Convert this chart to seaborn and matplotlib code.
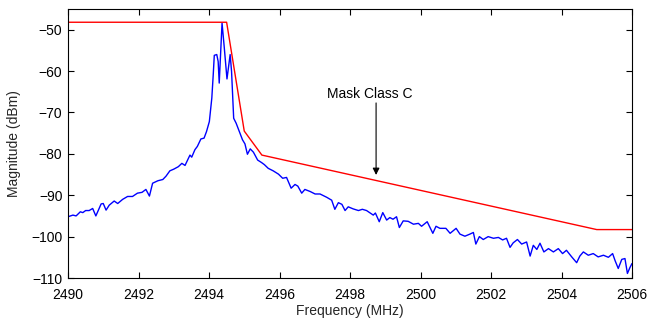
import matplotlib
matplotlib.use("Agg")
import matplotlib.pyplot as plt
import seaborn as sns
import pandas as pd

# Measured spectrum (MHz, dBm)
freq = [2490.0, 2490.14, 2490.23, 2490.35, 2490.42, 2490.5, 2490.6, 2490.70, 2490.79, 2490.94,
        2491.0, 2491.08, 2491.17, 2491.31, 2491.41, 2491.55, 2491.69, 2491.83, 2491.97, 2492.1,
        2492.21, 2492.31, 2492.40, 2492.55, 2492.69, 2492.78, 2492.89, 2493.0, 2493.13, 2493.23,
        2493.32, 2493.46, 2493.51, 2493.60, 2493.67, 2493.77, 2493.86, 2493.93, 2494.01, 2494.08,
        2494.12, 2494.15, 2494.22, 2494.26, 2494.29, 2494.37, 2494.43, 2494.51, 2494.60, 2494.64,
        2494.70, 2494.77, 2494.86, 2494.95, 2495.02, 2495.09, 2495.17, 2495.26, 2495.38, 2495.49,
        2495.57, 2495.68, 2495.82, 2495.97, 2496.09, 2496.20, 2496.33, 2496.44, 2496.52, 2496.63,
        2496.72, 2496.87, 2497.01, 2497.15, 2497.34, 2497.48, 2497.57, 2497.67, 2497.77, 2497.86,
        2497.95, 2498.09, 2498.24, 2498.35, 2498.47, 2498.66, 2498.72, 2498.83, 2498.93, 2499.04,
        2499.13, 2499.22, 2499.32, 2499.40, 2499.51, 2499.65, 2499.80, 2499.94, 2500.03, 2500.19,
        2500.35, 2500.44, 2500.55, 2500.72, 2500.84, 2501.01, 2501.12, 2501.26, 2501.40, 2501.50,
        2501.57, 2501.67, 2501.78, 2501.92, 2502.07, 2502.21, 2502.33, 2502.44, 2502.54, 2502.63,
        2502.75, 2502.87, 2503.01, 2503.11, 2503.20, 2503.30, 2503.39, 2503.50, 2503.63, 2503.77,
        2503.91, 2504.03, 2504.14, 2504.29, 2504.43, 2504.52, 2504.62, 2504.76, 2504.90, 2505.04,
        2505.19, 2505.33, 2505.45, 2505.52, 2505.61, 2505.71, 2505.80, 2505.87, 2505.94, 2506.0]
mag = [-95.2, -94.8, -95.0, -94.0, -94.2, -93.7, -93.7, -93.2, -95.0, -92.1,
       -92.0, -93.6, -92.4, -91.4, -92.0, -91.0, -90.3, -90.3, -89.5, -89.3,
       -88.6, -90.2, -87.1, -86.5, -86.2, -85.4, -84.1, -83.7, -83.1, -82.3,
       -82.8, -80.3, -80.8, -79.0, -78.2, -76.4, -76.2, -74.6, -72.2, -66.5,
       -60.9, -56.2, -56.0, -57.7, -62.9, -48.4, -54.0, -61.9, -56.0, -60.1,
       -71.4, -72.6, -74.6, -76.6, -77.6, -80.1, -78.8, -79.6, -81.5, -82.1,
       -82.6, -83.5, -84.1, -84.9, -85.9, -85.7, -88.3, -87.4, -87.8, -89.5,
       -88.6, -89.1, -89.7, -89.7, -90.5, -91.2, -93.4, -91.8, -92.2, -93.7,
       -92.8, -93.3, -93.7, -93.4, -93.7, -94.8, -94.3, -96.4, -94.2, -96.0,
       -95.4, -95.8, -95.2, -97.8, -96.2, -96.3, -97.0, -96.8, -97.5, -96.4,
       -99.2, -97.5, -98.0, -98.0, -99.2, -98.0, -99.4, -99.9, -99.4, -99.0,
       -101.8, -100.0, -100.7, -100.0, -100.4, -100.2, -100.8, -100.4, -102.6, -101.5,
       -100.7, -101.8, -101.3, -104.7, -102.1, -103.1, -101.6, -103.7, -102.9, -103.7,
       -102.9, -104.1, -103.3, -104.9, -106.3, -104.7, -103.7, -104.5, -104.1, -104.9,
       -104.5, -105.0, -104.1, -105.8, -107.7, -105.5, -105.3, -108.9, -107.5, -106.5]

# Spectral mask class C
mask_freq = [2490.0, 2494.5, 2495.0, 2495.5, 2505.0, 2506.0]
mask_mag = [-48.2, -48.2, -74.5, -80.3, -98.3, -98.3]

x_ticks = [2490, 2492, 2494, 2496, 2498, 2500, 2502, 2504, 2506]
y_ticks = [-110, -100, -90, -80, -70, -60, -50]

sns.set_theme(style="white")
plt.rcParams['font.family'] = ['Liberation Sans', 'DejaVu Sans']
plt.rcParams['xtick.direction'] = 'in'
plt.rcParams['ytick.direction'] = 'in'

fig = plt.figure(figsize=(6.51, 3.2), dpi=100)
ax = fig.add_axes([68/651, 1-278/320, (632-68)/651, (278-9)/320])

df_spec = pd.DataFrame({"f": freq, "m": mag})
df_mask = pd.DataFrame({"f": mask_freq, "m": mask_mag})
sns.lineplot(data=df_spec, x="f", y="m", ax=ax, color="#0000ff", lw=1.0,
             estimator=None, sort=False)
sns.lineplot(data=df_mask, x="f", y="m", ax=ax, color="#ff0000", lw=1.0,
             estimator=None, sort=False)

ax.set_xlim(2490, 2506)
ax.set_ylim(-110, -45)
ax.set_xticks(x_ticks)
ax.set_yticks(y_ticks)
ax.tick_params(axis='both', which='both', direction='in', length=4, width=0.8,
               top=True, right=True, bottom=True, left=True, labelsize=10,
               colors='black')
ax.tick_params(axis='x', pad=7)
ax.tick_params(axis='y', pad=4)
for s in ax.spines.values():
    s.set_visible(True)
    s.set_color('black')
    s.set_linewidth(0.8)

ax.set_xlabel("Frequency (MHz)", fontsize=10, labelpad=2)
ax.set_ylabel("Magnitude (dBm)", fontsize=10, labelpad=7)

ax.annotate("", xy=(2498.74, -85.1), xytext=(2498.74, -67.7),
            arrowprops=dict(arrowstyle="-|>", color="black", lw=0.8,
                            mutation_scale=10, shrinkA=0, shrinkB=0))
ax.text(2497.35, -65.6, "Mask Class C", fontsize=10, ha="left", va="center",
        color="black")

fig.savefig("out.png", dpi=100)
